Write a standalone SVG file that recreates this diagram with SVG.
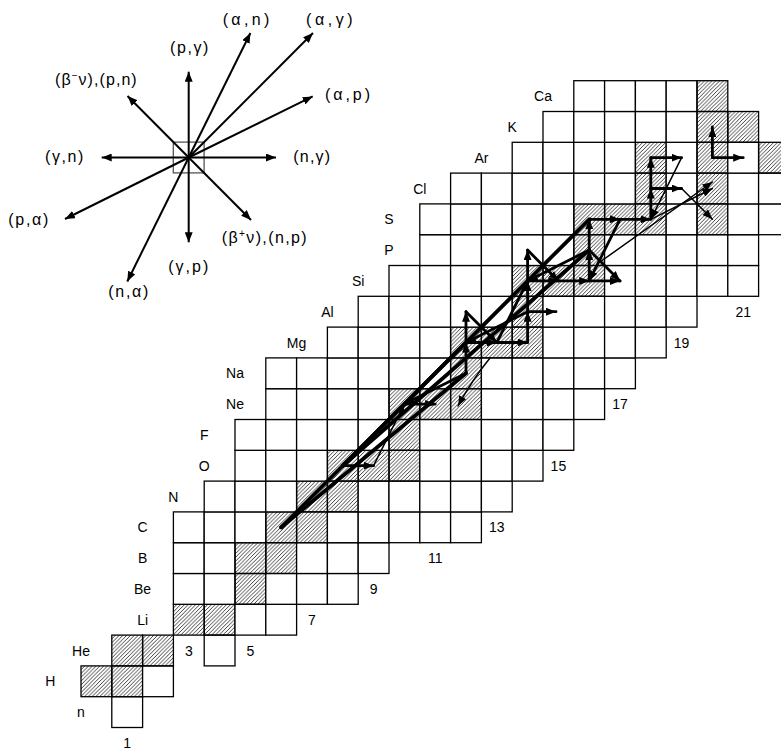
<svg xmlns="http://www.w3.org/2000/svg" width="781" height="752" viewBox="0 0 781 752">
<style>
.lbl{font-family:"Liberation Sans",Arial,sans-serif;font-size:14px;fill:#000;text-anchor:middle}
.lg{font-family:"Liberation Sans",Arial,sans-serif;font-size:16px;fill:#000}
.la{stroke:#000;stroke-width:2;fill:none;marker-end:url(#ah)}
.hv{stroke:#000;stroke-width:3.8;fill:none;stroke-linecap:round;stroke-linejoin:round}
.md{stroke:#000;stroke-width:2.8;fill:none;stroke-linecap:round;marker-end:url(#ah)}
.tn{stroke:#000;stroke-width:1.5;fill:none;stroke-linecap:round;marker-end:url(#ah)}
</style>
<defs>
<pattern id="hatch" patternUnits="userSpaceOnUse" width="3.8" height="3.8">
<path d="M-1,1 L1,-1 M0,3.8 L3.8,0 M2.8,4.8 L4.8,2.8" stroke="#000" stroke-width="0.75"/>
</pattern>
<rect id="cw" width="30.8" height="30.8" fill="#fff" stroke="#000" stroke-width="1.3"/>
<rect id="ch" width="30.8" height="30.8" fill="url(#hatch)" stroke="#000" stroke-width="1.3"/>
<marker id="ah" viewBox="0 0 10 8" refX="10" refY="4" markerWidth="10" markerHeight="8" markerUnits="userSpaceOnUse" orient="auto"><path d="M0,0 L10,4 L0,8 z" fill="#000"/></marker>
</defs>
<rect width="781" height="752" fill="#fff"/>

<g id="chart">
<g id="row-n"><use href="#cw" x="111.8" y="696.7"/></g>
<g id="row-H"><use href="#ch" x="81" y="665.9"/><use href="#ch" x="111.8" y="665.9"/><use href="#cw" x="142.6" y="665.9"/></g>
<g id="row-He"><use href="#ch" x="111.8" y="635.1"/><use href="#ch" x="142.6" y="635.1"/><use href="#cw" x="204.2" y="635.1"/></g>
<g id="row-Li"><use href="#ch" x="173.4" y="604.3"/><use href="#ch" x="204.2" y="604.3"/><use href="#cw" x="235" y="604.3"/><use href="#cw" x="265.8" y="604.3"/></g>
<g id="row-Be"><use href="#cw" x="173.4" y="573.5"/><use href="#cw" x="204.2" y="573.5"/><use href="#ch" x="235" y="573.5"/><use href="#cw" x="265.8" y="573.5"/><use href="#cw" x="296.6" y="573.5"/><use href="#cw" x="327.4" y="573.5"/></g>
<g id="row-B"><use href="#cw" x="173.4" y="542.7"/><use href="#cw" x="204.2" y="542.7"/><use href="#ch" x="235" y="542.7"/><use href="#ch" x="265.8" y="542.7"/><use href="#cw" x="296.6" y="542.7"/><use href="#cw" x="327.4" y="542.7"/><use href="#cw" x="358.2" y="542.7"/></g>
<g id="row-C"><use href="#cw" x="173.4" y="511.9"/><use href="#cw" x="204.2" y="511.9"/><use href="#cw" x="235" y="511.9"/><use href="#ch" x="265.8" y="511.9"/><use href="#ch" x="296.6" y="511.9"/><use href="#cw" x="327.4" y="511.9"/><use href="#cw" x="358.2" y="511.9"/><use href="#cw" x="389" y="511.9"/><use href="#cw" x="419.8" y="511.9"/><use href="#cw" x="450.6" y="511.9"/></g>
<g id="row-N"><use href="#cw" x="204.2" y="481.1"/><use href="#cw" x="235" y="481.1"/><use href="#cw" x="265.8" y="481.1"/><use href="#ch" x="296.6" y="481.1"/><use href="#ch" x="327.4" y="481.1"/><use href="#cw" x="358.2" y="481.1"/><use href="#cw" x="389" y="481.1"/><use href="#cw" x="419.8" y="481.1"/><use href="#cw" x="450.6" y="481.1"/><use href="#cw" x="481.4" y="481.1"/></g>
<g id="row-O"><use href="#cw" x="235" y="450.3"/><use href="#cw" x="265.8" y="450.3"/><use href="#cw" x="296.6" y="450.3"/><use href="#ch" x="327.4" y="450.3"/><use href="#ch" x="358.2" y="450.3"/><use href="#ch" x="389" y="450.3"/><use href="#cw" x="419.8" y="450.3"/><use href="#cw" x="450.6" y="450.3"/><use href="#cw" x="481.4" y="450.3"/><use href="#cw" x="512.2" y="450.3"/></g>
<g id="row-F"><use href="#cw" x="235" y="419.5"/><use href="#cw" x="265.8" y="419.5"/><use href="#cw" x="296.6" y="419.5"/><use href="#cw" x="327.4" y="419.5"/><use href="#cw" x="358.2" y="419.5"/><use href="#ch" x="389" y="419.5"/><use href="#cw" x="419.8" y="419.5"/><use href="#cw" x="450.6" y="419.5"/><use href="#cw" x="481.4" y="419.5"/><use href="#cw" x="512.2" y="419.5"/><use href="#cw" x="543" y="419.5"/></g>
<g id="row-Ne"><use href="#cw" x="265.8" y="388.7"/><use href="#cw" x="296.6" y="388.7"/><use href="#cw" x="327.4" y="388.7"/><use href="#cw" x="358.2" y="388.7"/><use href="#ch" x="389" y="388.7"/><use href="#ch" x="419.8" y="388.7"/><use href="#ch" x="450.6" y="388.7"/><use href="#cw" x="481.4" y="388.7"/><use href="#cw" x="512.2" y="388.7"/><use href="#cw" x="543" y="388.7"/><use href="#cw" x="573.8" y="388.7"/></g>
<g id="row-Na"><use href="#cw" x="265.8" y="357.9"/><use href="#cw" x="296.6" y="357.9"/><use href="#cw" x="327.4" y="357.9"/><use href="#cw" x="358.2" y="357.9"/><use href="#cw" x="389" y="357.9"/><use href="#cw" x="419.8" y="357.9"/><use href="#ch" x="450.6" y="357.9"/><use href="#cw" x="481.4" y="357.9"/><use href="#cw" x="512.2" y="357.9"/><use href="#cw" x="543" y="357.9"/><use href="#cw" x="573.8" y="357.9"/><use href="#cw" x="604.6" y="357.9"/></g>
<g id="row-Mg"><use href="#cw" x="327.4" y="327.1"/><use href="#cw" x="358.2" y="327.1"/><use href="#cw" x="389" y="327.1"/><use href="#cw" x="419.8" y="327.1"/><use href="#ch" x="450.6" y="327.1"/><use href="#ch" x="481.4" y="327.1"/><use href="#ch" x="512.2" y="327.1"/><use href="#cw" x="543" y="327.1"/><use href="#cw" x="573.8" y="327.1"/><use href="#cw" x="604.6" y="327.1"/><use href="#cw" x="635.4" y="327.1"/></g>
<g id="row-Al"><use href="#cw" x="358.2" y="296.3"/><use href="#cw" x="389" y="296.3"/><use href="#cw" x="419.8" y="296.3"/><use href="#cw" x="450.6" y="296.3"/><use href="#cw" x="481.4" y="296.3"/><use href="#ch" x="512.2" y="296.3"/><use href="#cw" x="543" y="296.3"/><use href="#cw" x="573.8" y="296.3"/><use href="#cw" x="604.6" y="296.3"/><use href="#cw" x="635.4" y="296.3"/><use href="#cw" x="666.2" y="296.3"/></g>
<g id="row-Si"><use href="#cw" x="389" y="265.5"/><use href="#cw" x="419.8" y="265.5"/><use href="#cw" x="450.6" y="265.5"/><use href="#cw" x="481.4" y="265.5"/><use href="#ch" x="512.2" y="265.5"/><use href="#ch" x="543" y="265.5"/><use href="#ch" x="573.8" y="265.5"/><use href="#cw" x="604.6" y="265.5"/><use href="#cw" x="635.4" y="265.5"/><use href="#cw" x="666.2" y="265.5"/><use href="#cw" x="697" y="265.5"/><use href="#cw" x="727.8" y="265.5"/></g>
<g id="row-P"><use href="#cw" x="419.8" y="234.7"/><use href="#cw" x="450.6" y="234.7"/><use href="#cw" x="481.4" y="234.7"/><use href="#cw" x="512.2" y="234.7"/><use href="#cw" x="543" y="234.7"/><use href="#ch" x="573.8" y="234.7"/><use href="#cw" x="604.6" y="234.7"/><use href="#cw" x="635.4" y="234.7"/><use href="#cw" x="666.2" y="234.7"/><use href="#cw" x="697" y="234.7"/><use href="#cw" x="727.8" y="234.7"/></g>
<g id="row-S"><use href="#cw" x="419.8" y="203.9"/><use href="#cw" x="450.6" y="203.9"/><use href="#cw" x="481.4" y="203.9"/><use href="#cw" x="512.2" y="203.9"/><use href="#cw" x="543" y="203.9"/><use href="#ch" x="573.8" y="203.9"/><use href="#ch" x="604.6" y="203.9"/><use href="#ch" x="635.4" y="203.9"/><use href="#cw" x="666.2" y="203.9"/><use href="#ch" x="697" y="203.9"/><use href="#cw" x="727.8" y="203.9"/><use href="#cw" x="758.6" y="203.9"/></g>
<g id="row-Cl"><use href="#cw" x="450.6" y="173.1"/><use href="#cw" x="481.4" y="173.1"/><use href="#cw" x="512.2" y="173.1"/><use href="#cw" x="543" y="173.1"/><use href="#cw" x="573.8" y="173.1"/><use href="#cw" x="604.6" y="173.1"/><use href="#ch" x="635.4" y="173.1"/><use href="#cw" x="666.2" y="173.1"/><use href="#ch" x="697" y="173.1"/><use href="#cw" x="727.8" y="173.1"/><use href="#cw" x="758.6" y="173.1"/></g>
<g id="row-Ar"><use href="#cw" x="512.2" y="142.3"/><use href="#cw" x="543" y="142.3"/><use href="#cw" x="573.8" y="142.3"/><use href="#cw" x="604.6" y="142.3"/><use href="#ch" x="635.4" y="142.3"/><use href="#cw" x="666.2" y="142.3"/><use href="#ch" x="697" y="142.3"/><use href="#cw" x="727.8" y="142.3"/><use href="#ch" x="758.6" y="142.3"/></g>
<g id="row-K"><use href="#cw" x="543" y="111.5"/><use href="#cw" x="573.8" y="111.5"/><use href="#cw" x="604.6" y="111.5"/><use href="#cw" x="635.4" y="111.5"/><use href="#cw" x="666.2" y="111.5"/><use href="#ch" x="697" y="111.5"/><use href="#ch" x="727.8" y="111.5"/></g>
<g id="row-Ca"><use href="#cw" x="573.8" y="80.7"/><use href="#cw" x="604.6" y="80.7"/><use href="#cw" x="635.4" y="80.7"/><use href="#cw" x="666.2" y="80.7"/><use href="#ch" x="697" y="80.7"/></g>
</g>

<g id="element-labels" class="lbl">
<text x="81" y="717">n</text>
<text x="50.2" y="686.3">H</text>
<text x="81" y="655.5">He</text>
<text x="142.6" y="624.7">Li</text>
<text x="142.6" y="593.9">Be</text>
<text x="142.6" y="563.1">B</text>
<text x="142.6" y="532.3">C</text>
<text x="173.4" y="501.5">N</text>
<text x="204.2" y="470.7">O</text>
<text x="204.2" y="439.9">F</text>
<text x="235" y="409.1">Ne</text>
<text x="235" y="378.3">Na</text>
<text x="296.6" y="347.5">Mg</text>
<text x="327.4" y="316.7">Al</text>
<text x="358.2" y="285.9">Si</text>
<text x="389" y="255.1">P</text>
<text x="389" y="224.3">S</text>
<text x="419.8" y="193.5">Cl</text>
<text x="481.4" y="162.7">Ar</text>
<text x="512.2" y="131.9">K</text>
<text x="543" y="101.1">Ca</text>
</g>

<g id="neutron-labels" class="lbl">
<text x="127.2" y="747.9">1</text>
<text x="188.8" y="655.5">3</text>
<text x="250.4" y="655.5">5</text>
<text x="312" y="624.7">7</text>
<text x="373.6" y="593.9">9</text>
<text x="435.2" y="563.1">11</text>
<text x="496.8" y="532.3">13</text>
<text x="558.4" y="470.7">15</text>
<text x="620" y="409.1">17</text>
<text x="681.6" y="347.5">19</text>
<text x="743.2" y="316.7">21</text>
</g>

<g id="legend">
<rect x="173.3" y="142.1" width="30.8" height="30.8" fill="none" stroke="#555" stroke-width="1.3"/>
<g class="lg">
<text x="222.7" y="25" textLength="46.6" lengthAdjust="spacing">(α,n)</text>
<text x="306" y="25" textLength="46.6" lengthAdjust="spacing">(α,γ)</text>
<text x="170" y="53.3" textLength="38.3" lengthAdjust="spacing">(p,γ)</text>
<text x="55" y="85" textLength="81.7" lengthAdjust="spacing">(β<tspan dy="-6" font-size="10">−</tspan><tspan dy="6">ν),(p,n)</tspan></text>
<text x="325" y="100" textLength="45" lengthAdjust="spacing">(α,p)</text>
<text x="45" y="161.7" textLength="38.3" lengthAdjust="spacing">(γ,n)</text>
<text x="293.3" y="161.7" textLength="36.7" lengthAdjust="spacing">(n,γ)</text>
<text x="8.3" y="224.7" textLength="40" lengthAdjust="spacing">(p,α)</text>
<text x="221.7" y="243.3" textLength="85" lengthAdjust="spacing">(β<tspan dy="-6" font-size="10">+</tspan><tspan dy="6">ν),(n,p)</tspan></text>
<text x="168.3" y="271.7" textLength="40" lengthAdjust="spacing">(γ,p)</text>
<text x="108.3" y="296.7" textLength="40" lengthAdjust="spacing">(n,α)</text>
</g>
</g>

<g id="connectors">
<g id="legend-arrows">
<line class="la" x1="188.7" y1="157.5" x2="188.7" y2="71.7"/>
<line class="la" x1="188.7" y1="157.5" x2="188.7" y2="242.3"/>
<line class="la" x1="188.7" y1="157.5" x2="276" y2="157.5"/>
<line class="la" x1="188.7" y1="157.5" x2="101.7" y2="157.5"/>
<line class="la" x1="188.7" y1="157.5" x2="127.5" y2="96"/>
<line class="la" x1="188.7" y1="157.5" x2="251" y2="220"/>
<line class="la" x1="188.7" y1="157.5" x2="250.4" y2="33"/>
<line class="la" x1="188.7" y1="157.5" x2="313" y2="33"/>
<line class="la" x1="188.7" y1="157.5" x2="312.7" y2="96.4"/>
<line class="la" x1="188.7" y1="157.5" x2="65" y2="219"/>
<line class="la" x1="188.7" y1="157.5" x2="127.3" y2="281.5"/>
</g>
<g id="network">
<path class="hv" d="M281.2,527.3 L466,342.5"/>
<path class="hv" d="M281.2,527.3 L466,373.3"/>
<path class="hv" d="M342.8,465.7 L527.6,280.9"/>
<path class="hv" d="M342.8,465.7 L589.2,250.1"/>
<path class="hv" d="M527.6,280.9 L589.2,219.3"/>
<path class="md" d="M342.8,465.7 L373.6,465.7"/>
<path class="tn" d="M373.6,465.7 L404.4,404.1"/>
<path class="md" d="M404.4,404.1 L435.2,404.1"/>
<path class="md" d="M466,373.3 L404.4,404.1"/>
<path class="md" d="M466,373.3 L466,342.5"/>
<path class="tn" d="M490,358 Q472,380 458,406"/>
<path class="md" d="M466,342.5 L496.8,342.5"/>
<path class="md" d="M496.8,342.5 L527.6,342.5"/>
<path class="md" d="M496.8,342.5 L527.6,280.9"/>
<path class="md" d="M466,342.5 L466,311.7"/>
<path class="md" d="M466,311.7 L496.8,342.5"/>
<path class="md" d="M527.6,311.7 L466,342.5"/>
<path class="md" d="M527.6,342.5 L527.6,311.7"/>
<path class="md" d="M527.6,311.7 L527.6,280.9"/>
<path class="md" d="M527.6,311.7 L556,311.7"/>
<path class="md" d="M527.6,280.9 L558.4,280.9"/>
<path class="md" d="M558.4,280.9 L589.2,280.9"/>
<path class="md" d="M589.2,280.9 L620,280.9"/>
<path class="md" d="M589.2,250.1 L620,280.9"/>
<path class="md" d="M589.2,250.1 L527.6,280.9"/>
<path class="md" d="M589.2,280.9 L589.2,250.1"/>
<path class="md" d="M589.2,250.1 L589.2,219.3"/>
<path class="md" d="M527.6,280.9 L527.6,250.1"/>
<path class="md" d="M527.6,250.1 L558.4,280.9"/>
<path class="md" d="M589.2,219.3 L620,219.3"/>
<path class="md" d="M620,219.3 L589.2,280.9"/>
<path class="md" d="M620,219.3 L650.8,219.3"/>
<path class="md" d="M650.8,219.3 L650.8,188.5"/>
<path class="md" d="M650.8,188.5 L650.8,157.7"/>
<path class="md" d="M650.8,188.5 L681.6,188.5"/>
<path class="md" d="M650.8,157.7 L681.6,157.7"/>
<path class="tn" d="M681.6,157.7 L650.8,219.3"/>
<path class="tn" d="M681.6,188.5 L712.4,219.3"/>
<path class="tn" d="M650.8,219.3 L712.4,188.5"/>
<path class="tn" d="M600,262 L712.4,182"/>
<path class="md" d="M712.4,157.7 L712.4,126.9"/>
<path class="md" d="M712.4,157.7 L743.2,157.7"/>
</g>
</g>
</svg>
